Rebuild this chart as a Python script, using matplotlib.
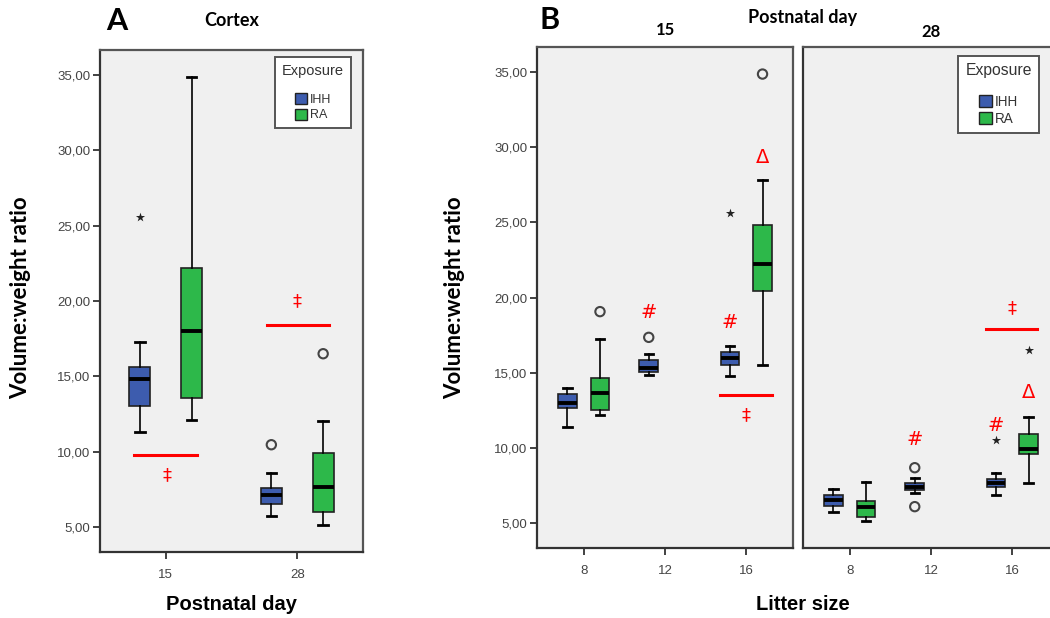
import numpy as np
import matplotlib
matplotlib.use("Agg")
import matplotlib.pyplot as plt
from matplotlib.patches import Patch

# Box statistics: [whisker low, Q1, median, Q3, whisker high]
# Panel A - cortex by postnatal day
a_days = ["15", "28"]
a_ihh = [[11.3, 13.0, 14.8, 15.6, 17.3],
         [5.72, 6.5, 7.1, 7.56, 8.6]]
a_ra = [[12.12, 13.56, 18.03, 22.17, 34.87],
        [5.1, 6.0, 7.67, 9.9, 12.03]]
a_ihh_circles = [[], [10.46]]
a_ihh_stars = [[25.58], []]
a_ra_circles = [[], [16.5]]
a_ra_stars = [[], []]

# Panel B - by litter size, split by postnatal day
litter = ["8", "12", "16"]
b15_ihh = [[11.38, 12.67, 13.0, 13.6, 14.0],
           [14.87, 15.07, 15.33, 15.82, 16.26],
           [14.77, 15.5, 16.0, 16.37, 16.77]]
b15_ra = [[12.18, 12.54, 13.64, 14.64, 17.26],
          None,
          [15.5, 20.45, 22.2, 24.85, 27.8]]
b15_ihh_circles = [[], [17.35], []]
b15_ihh_stars = [[], [], [25.63]]
b15_ra_circles = [[19.06], [], [34.86]]
b15_ra_stars = [[], [], []]

b28_ihh = [[5.73, 6.13, 6.51, 6.84, 7.24],
           [7.0, 7.18, 7.42, 7.64, 7.98],
           [6.86, 7.38, 7.68, 7.93, 8.33]]
b28_ra = [[5.13, 5.4, 6.09, 6.46, 7.73],
          None,
          [7.68, 9.58, 9.95, 10.93, 12.08]]
b28_ihh_circles = [[], [8.68, 6.09], []]
b28_ihh_stars = [[], [], [10.5]]
b28_ra_circles = [[], [], []]
b28_ra_stars = [[], [], [16.52]]

yticks = [5, 10, 15, 20, 25, 30, 35]

IHH_COL = "#3d5cae"
RA_COL = "#2db84a"
BG = "#f0f0f0"
FRAME = "#555555"
RED = "#ff0000"
W, H = 1050, 618

fig = plt.figure(figsize=(10.5, 6.18), dpi=100)


def px_axes(x0, y0, x1, y1):
    return fig.add_axes([x0 / W, 1 - y1 / H, (x1 - x0) / W, (y1 - y0) / H])


def fig_text(x, y, s, **kw):
    kw.setdefault("ha", "center")
    kw.setdefault("va", "center")
    return fig.text(x / W, 1 - y / H, s, **kw)


def style_axes(ax, xlim, labels, show_y=True):
    ax.set_facecolor(BG)
    ax.set_xlim(*xlim)
    ax.set_ylim(3.34, 36.66)
    for s in ax.spines.values():
        s.set_color(FRAME)
        s.set_linewidth(1.6)
    ax.spines["left"].set_color("#333333")
    ax.spines["bottom"].set_color("#333333")
    ax.set_xticks(range(len(labels)))
    ax.set_xticklabels(labels, fontsize=9.5, color="#444444", family="Liberation Sans")
    ax.set_yticks(yticks)
    if show_y:
        ax.set_yticklabels([f"{v:.2f}".replace(".", ",") for v in yticks],
                           fontsize=9.5, color="#444444", family="Liberation Sans")
        ax.tick_params(axis="y", length=5, width=1.3, color="#333333", pad=2)
    else:
        ax.tick_params(axis="y", length=0, labelleft=False)
    ax.tick_params(axis="x", length=5, width=1.3, color="#333333", pad=7)


def draw_boxes(ax, stats, circles, stars, offset, width, color):
    for i, s in enumerate(stats):
        pos = i + offset
        if s is not None:
            st = dict(whislo=s[0], q1=s[1], med=s[2], q3=s[3], whishi=s[4], fliers=[])
            ax.bxp([st], positions=[pos], widths=width, showfliers=False,
                   patch_artist=True, capwidths=width * 0.45, manage_ticks=False,
                   boxprops=dict(facecolor=color, edgecolor="#222222", linewidth=1.2),
                   medianprops=dict(color="black", linewidth=2.8),
                   whiskerprops=dict(color="black", linewidth=1.2),
                   capprops=dict(color="black", linewidth=2.0))
        if circles[i]:
            ax.scatter([pos] * len(circles[i]), circles[i], s=45, marker="o",
                       facecolor="none", edgecolor="#444444", linewidth=1.5, zorder=4)
        if stars[i]:
            ax.scatter([pos] * len(stars[i]), stars[i], s=48, marker="*",
                       color="#222222", linewidth=0, zorder=4)


def red_mark(ax, x, y, sym, size=14):
    ax.text(x, y, sym, color=RED, fontsize=size, ha="center", va="center",
            family="DejaVu Sans", zorder=5)


def red_line(ax, x0, x1, y):
    ax.plot([x0, x1], [y, y], color=RED, linewidth=2.2, zorder=5)


def add_legend(ax, x, y, k=1.0):
    handles = [Patch(facecolor=IHH_COL, edgecolor="#222222", label="IHH"),
               Patch(facecolor=RA_COL, edgecolor="#222222", label="RA")]
    leg = ax.legend(handles=handles, title="Exposure", loc="upper left",
                    bbox_to_anchor=(x, y), borderaxespad=0, fancybox=False,
                    framealpha=1, edgecolor="#555555",
                    title_fontsize=10.5 * k, handlelength=1.0, handleheight=1.0,
                    handletextpad=0.2, labelspacing=0.2, borderpad=0.55,
                    alignment="center",
                    prop={"family": "Liberation Sans", "size": 9 * k})
    leg.get_title().set_color("#333333")
    leg.get_title().set_family("Liberation Sans")
    leg._legend_box.sep = 11 * k
    leg.get_frame().set_linewidth(1.4)
    for t in leg.get_texts():
        t.set_color("#333333")


# ---- Panel A ----
axA = px_axes(100, 50, 363, 552)
style_axes(axA, (-0.5, 1.5), a_days)
draw_boxes(axA, a_ihh, a_ihh_circles, a_ihh_stars, -0.197, 0.16, IHH_COL)
draw_boxes(axA, a_ra, a_ra_circles, a_ra_stars, 0.197, 0.16, RA_COL)
red_line(axA, -0.242, 0.235, 9.78)
red_mark(axA, 0.01, 8.45, "‡", 13)
red_line(axA, 0.773, 1.242, 18.4)
red_mark(axA, 1.0, 20.0, "‡", 13)
add_legend(axA, 0.665, 0.986)

# ---- Panel B, day 15 ----
axB1 = px_axes(537, 47, 793, 548)
style_axes(axB1, (-0.575, 2.575), litter)
draw_boxes(axB1, b15_ihh, b15_ihh_circles, b15_ihh_stars, -0.2, 0.23, IHH_COL)
draw_boxes(axB1, b15_ra, b15_ra_circles, b15_ra_stars, 0.2, 0.23, RA_COL)
red_mark(axB1, 0.8, 19.0, "#", 14)
red_mark(axB1, 1.8, 18.35, "#", 14)
red_mark(axB1, 2.2, 29.3, "Δ", 14)
red_line(axB1, 1.68, 2.32, 13.51)
red_mark(axB1, 2.0, 12.2, "‡", 13)

# ---- Panel B, day 28 ----
axB2 = px_axes(803, 47, 1059, 548)
style_axes(axB2, (-0.575, 2.575), litter, show_y=False)
draw_boxes(axB2, b28_ihh, b28_ihh_circles, b28_ihh_stars, -0.2, 0.23, IHH_COL)
draw_boxes(axB2, b28_ra, b28_ra_circles, b28_ra_stars, 0.2, 0.23, RA_COL)
red_mark(axB2, 0.8, 10.53, "#", 14)
red_mark(axB2, 1.8, 11.46, "#", 14)
red_mark(axB2, 2.2, 13.65, "Δ", 14)
red_line(axB2, 1.674, 2.30, 17.9)
red_mark(axB2, 2.0, 19.3, "‡", 13)
add_legend(axB2, 0.605, 0.982, k=1.08)

# ---- headings and axis titles ----
fig_text(117, 21, "A", fontsize=22, fontweight="bold", family="Lato")
fig_text(232, 20, "Cortex", fontsize=13, fontweight="bold", family="Lato")
fig_text(550, 20, "B", fontsize=22, fontweight="bold", family="Lato")
fig_text(803, 18, "Postnatal day", fontsize=13, fontweight="bold", family="Lato")
fig_text(665, 30, "15", fontsize=12, fontweight="bold", family="Lato")
fig_text(931, 32, "28", fontsize=12, fontweight="bold", family="Lato")

for x in (21, 455):
    fig_text(x, 298, "Volume:weight ratio", fontsize=16, fontweight="bold",
             family="Lato", rotation=90)
fig_text(232, 604, "Postnatal day", fontsize=14.5, fontweight="bold",
         family="Liberation Sans")
fig_text(803, 604, "Litter size", fontsize=14.5, fontweight="bold",
         family="Liberation Sans")

fig.savefig("out.png", dpi=100)
